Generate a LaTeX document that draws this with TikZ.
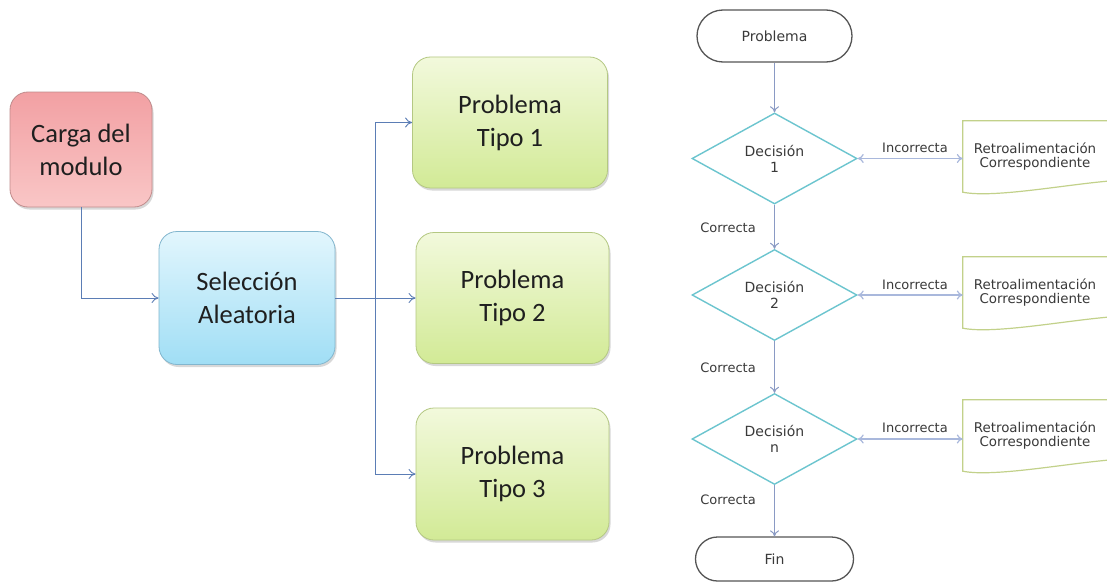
\documentclass[tikz,border=0pt]{standalone}
\usepackage{fontspec}
\setmainfont{Carlito}
\newfontfamily\smallsans{DejaVu Sans}
\usetikzlibrary{shapes.geometric,arrows.meta,shadows,calc}
\definecolor{lconn}{HTML}{5B7DB5}
\definecolor{rconn}{HTML}{8A9AC4}
\definecolor{rarrow}{HTML}{A9B8DC}
\definecolor{diamc}{HTML}{6CC5CF}
\definecolor{retroc}{HTML}{C2D18A}
\definecolor{termc}{HTML}{555555}
\definecolor{txtsmall}{HTML}{3A3A3A}
\tikzset{
  bigbox/.style={rounded corners=18pt, draw, line width=0.8pt, align=center,
    font=\fontsize{26.5}{33}\selectfont, text=black!88,
    drop shadow={shadow xshift=1.5pt, shadow yshift=-2.5pt, opacity=0.25, fill=black!60}},
  cargabox/.style={bigbox, draw=red!45!black!45, top color={rgb,255:red,242;green,160;blue,163}, bottom color={rgb,255:red,249;green,198;blue,198}},
  selbox/.style={bigbox, draw={rgb,255:red,130;green,182;blue,206}, top color={rgb,255:red,226;green,246;blue,253}, bottom color={rgb,255:red,160;green,222;blue,245}},
  probbox/.style={bigbox, draw={rgb,255:red,180;green,200;blue,130}, top color={rgb,255:red,242;green,249;blue,220}, bottom color={rgb,255:red,210;green,234;blue,150}},
  lconnector/.style={draw=lconn, line width=0.9pt, -{To[length=7pt,width=10pt]}},
  terminal/.style={draw=termc, line width=1.3pt, fill=white, rounded corners=22pt,
    font=\smallsans\fontsize{14}{15}\selectfont, text=txtsmall, inner sep=0pt},
  decision/.style={diamond, aspect=1.8, draw=diamc, line width=1.4pt, fill=white,
    minimum width=165pt, minimum height=91pt, inner sep=0pt, align=center,
    font=\smallsans\fontsize{14}{16}\selectfont, text=txtsmall},
  retro/.style={draw=none, minimum width=144pt, minimum height=71pt, inner sep=0pt, align=center,
    font=\smallsans\fontsize{13.4}{13.5}\selectfont, text=txtsmall},
  retroline/.style={draw=retroc, line width=1.2pt},
  vconn/.style={draw=rconn, line width=1.0pt, -{To[length=6pt,width=9pt]}},
  hconn/.style={draw=rarrow, line width=1.2pt, {To[length=6pt,width=9pt]}-{To[length=6pt,width=9pt]}},
  lbl/.style={font=\smallsans\fontsize{13}{13}\selectfont, text=txtsmall, inner sep=0pt}
}
\begin{document}
\begin{tikzpicture}[x=1pt,y=-1pt]
\useasboundingbox[fill=white] (0,0) rectangle (1107,586);

% ---------- left diagram ----------
\node[cargabox, minimum width=142pt, minimum height=115pt] (carga) at (81,149.5) {Carga del\\modulo};
\node[selbox, minimum width=176pt, minimum height=133pt] (sel) at (247,298) {Selección\\Aleatoria};
\node[probbox, minimum width=195pt, minimum height=131pt] (p1) at (510,122.5) {Problema\\Tipo 1};
\node[probbox, minimum width=193pt, minimum height=131pt] (p2) at (512.5,298) {Problema\\Tipo 2};
\node[probbox, minimum width=193pt, minimum height=132pt] (p3) at (512.5,474) {Problema\\Tipo 3};
\coordinate (bus) at (375,298);

\draw[lconnector] (carga.south) |- (sel.west);
\draw[draw=lconn, line width=0.9pt] (sel.east) -- (bus);
\draw[lconnector] (bus) |- (p1.west);
\draw[lconnector] (bus) -- (p2.west);
\draw[lconnector] (bus) |- (p3.west);

% ---------- right flowchart ----------
\node[terminal, minimum width=155pt, minimum height=52pt, rounded corners=26pt] (prob) at (774.5,36) {Problema};
\node[decision] (d1) at (774.5,158.5) {Decisión\\1};
\node[decision] (d2) at (774.5,295) {Decisión\\2};
\node[decision] (d3) at (774.5,439) {Decisión\\n};
\node[terminal, minimum width=158pt, minimum height=44pt] (fin) at (774.5,559) {Fin};

\node[retro] (r1) at (1035,156.5) {Retroalimentación\\Correspondiente};
\node[retro] (r2) at (1035,292.5) {Retroalimentación\\Correspondiente};
\node[retro] (r3) at (1035,435.5) {Retroalimentación\\Correspondiente};

\foreach \r in {r1,r2,r3}{
  \draw[retroline] (\r.north east) -- (\r.north west) -- (\r.south west)
    .. controls +(30,6) and +(-45,4) .. ([yshift=11pt]\r.south east);
}

\draw[vconn] (prob.south) -- (d1.north);
\draw[vconn] (d1.south) -- (d2.north);
\draw[vconn] (d2.south) -- (d3.north);
\draw[vconn] (d3.south) -- (fin.north);

\draw[hconn] (d1.east) -- (d1.east -| r1.west);
\draw[hconn] (d2.east) -- (d2.east -| r2.west);
\draw[hconn] (d3.east) -- (d3.east -| r3.west);

\node[lbl] (i1) at (915,148) {Incorrecta};
\node[lbl] (i2) at (915,285) {Incorrecta};
\node[lbl] (i3) at (915,428) {Incorrecta};
\node[lbl] (c1) at (728,228) {Correcta};
\node[lbl] (c2) at (728,368) {Correcta};
\node[lbl] (c3) at (728,500) {Correcta};
\end{tikzpicture}
\end{document}
